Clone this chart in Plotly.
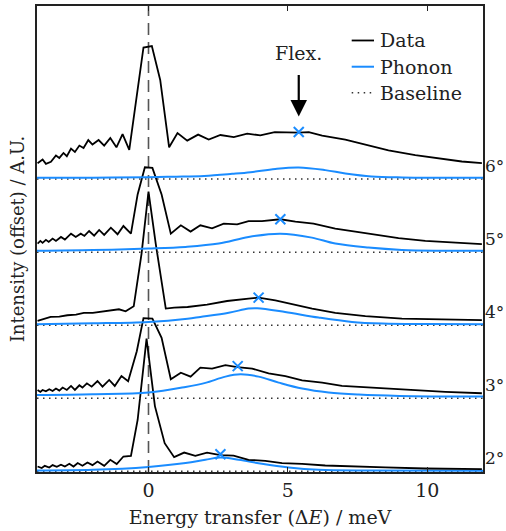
import plotly.graph_objects as go

# ---------------- data (intensity above each baseline, arbitrary units) ----------------
angles = ["2°", "3°", "4°", "5°", "6°"]
offsets = [0, 1, 2, 3, 4]

x_2 = [-3.98,-3.83,-3.72,-3.56,-3.44,-3.29,-3.14,-3.00,-2.84,-2.69,-2.54,-2.37,-2.19,-2.01,-1.83,-1.59,-1.37,-1.14,-0.90,-0.63,-0.39,-0.07,0.23,0.58,0.92,1.28,1.68,2.10,2.58,3.05,3.59,4.19,4.79,5.51,6.34,7.30,8.49,9.93,11.96]
y_2 = [0.065,0.044,0.075,0.052,0.084,0.061,0.089,0.065,0.102,0.065,0.112,0.075,0.120,0.084,0.134,0.075,0.157,0.098,0.202,0.211,0.702,1.815,0.892,0.384,0.193,0.256,0.211,0.256,0.221,0.215,0.157,0.143,0.112,0.102,0.079,0.065,0.052,0.038,0.030]

x_3 = [-3.98,-3.88,-3.80,-3.68,-3.56,-3.44,-3.32,-3.20,-3.08,-2.93,-2.78,-2.64,-2.48,-2.37,-2.21,-2.04,-1.83,-1.65,-1.41,-1.21,-0.97,-0.73,-0.42,-0.18,0.14,0.47,0.80,1.16,1.51,1.86,2.28,2.76,3.18,3.72,4.31,4.91,5.51,6.23,6.94,7.78,8.61,9.57,10.65,11.96]
y_3 = [0.113,0.086,0.113,0.095,0.123,0.099,0.132,0.104,0.146,0.113,0.168,0.113,0.177,0.146,0.204,0.159,0.236,0.159,0.250,0.168,0.304,0.232,0.644,1.097,1.090,0.827,0.259,0.350,0.296,0.418,0.405,0.454,0.426,0.405,0.341,0.304,0.245,0.214,0.168,0.150,0.123,0.105,0.086,0.068]

x_4 = [-3.98,-3.70,-3.51,-3.20,-2.91,-2.60,-2.32,-2.00,-1.72,-1.36,-1.06,-0.82,-0.53,-0.25,0.00,0.26,0.62,0.92,1.40,2.10,2.82,3.59,3.95,4.55,5.15,5.87,6.70,7.78,9.09,11.96]
y_4 = [0.059,0.090,0.113,0.118,0.136,0.145,0.168,0.168,0.181,0.204,0.218,0.191,0.259,0.977,1.830,1.113,0.228,0.241,0.249,0.282,0.331,0.363,0.377,0.341,0.286,0.228,0.168,0.123,0.091,0.068]

x_5 = [-3.98,-3.88,-3.80,-3.68,-3.58,-3.44,-3.32,-3.14,-3.00,-2.78,-2.61,-2.43,-2.30,-2.13,-1.95,-1.77,-1.59,-1.35,-1.11,-0.90,-0.63,-0.39,-0.13,0.14,0.47,0.80,1.16,1.51,1.86,2.28,2.70,3.18,3.59,4.07,4.73,5.27,5.92,6.70,7.42,8.14,8.97,9.93,10.89,11.96]
y_5 = [0.117,0.154,0.127,0.168,0.140,0.185,0.154,0.208,0.172,0.253,0.208,0.253,0.222,0.290,0.226,0.304,0.236,0.335,0.245,0.358,0.253,0.790,1.162,1.153,0.790,0.253,0.368,0.281,0.368,0.327,0.390,0.381,0.426,0.426,0.450,0.417,0.390,0.322,0.281,0.236,0.191,0.154,0.131,0.109]

x_6 = [-3.98,-3.80,-3.68,-3.50,-3.32,-3.20,-3.05,-2.93,-2.78,-2.64,-2.48,-2.33,-2.16,-2.01,-1.79,-1.59,-1.37,-1.15,-0.93,-0.69,-0.18,0.12,0.42,0.74,1.04,1.39,1.78,2.16,2.58,3.06,3.54,4.01,4.53,4.91,5.39,5.75,6.23,7.06,7.84,8.61,9.57,10.41,11.24,11.96]
y_6 = [0.218,0.268,0.208,0.236,0.323,0.290,0.358,0.313,0.418,0.372,0.459,0.426,0.535,0.473,0.535,0.459,0.563,0.436,0.617,0.399,1.802,1.822,1.358,0.436,0.631,0.527,0.609,0.541,0.604,0.576,0.623,0.599,0.644,0.640,0.636,0.644,0.595,0.541,0.463,0.395,0.327,0.282,0.241,0.218]

# phonon fits
px_2 = [-4, -2, 0, 1.33, 2.04, 2.58, 3.24, 4.07, 5.03, 6.1, 8, 12]
py_2 = [0.011, 0.020, 0.060, 0.112, 0.157, 0.188, 0.157, 0.102, 0.052, 0.020, 0.010, 0.007]
px_3 = [-4, -2, 0, 1.33, 2.04, 2.76, 3.3, 3.95, 4.67, 5.51, 6.46, 7.54, 9, 12]
py_3 = [0.045, 0.055, 0.078, 0.154, 0.210, 0.296, 0.327, 0.296, 0.214, 0.132, 0.078, 0.050, 0.032, 0.023]
px_4 = [-4, -2, 0, 1.4, 1.86, 2.88, 3.59, 3.9, 4.9, 6.1, 7.3, 8.4, 10, 12]
py_4 = [0.014, 0.025, 0.045, 0.089, 0.113, 0.170, 0.228, 0.232, 0.181, 0.105, 0.045, 0.023, 0.016, 0.014]
px_5 = [-4, -2, 0, 1.33, 2.52, 3.59, 4.73, 5.86, 6.70, 7.89, 9.09, 10.5, 12]
py_5 = [0.018, 0.028, 0.049, 0.072, 0.117, 0.208, 0.253, 0.199, 0.117, 0.063, 0.031, 0.020, 0.018]
px_6 = [-4, -2, 0, 1, 2, 3, 3.66, 4.55, 5.39, 6.34, 7.06, 8.0, 9.1, 10.5, 12]
py_6 = [0.018, 0.020, 0.027, 0.033, 0.043, 0.072, 0.095, 0.140, 0.159, 0.123, 0.078, 0.037, 0.023, 0.019, 0.018]

# inflection (Flex.) markers
flex_x = [2.58, 3.20, 3.95, 4.73, 5.39]
flex_y = [0.234, 0.440, 0.377, 0.450, 0.644]

data_x = [x_2, x_3, x_4, x_5, x_6]
data_y = [y_2, y_3, y_4, y_5, y_6]
ph_x = [px_2, px_3, px_4, px_5, px_6]
ph_y = [py_2, py_3, py_4, py_5, py_6]

x_range = [-4, 12]
x_ticks = [0, 5, 10]

# ---------------- styling ----------------
BLUE = "#1a8cff"
FONT = "DejaVu Serif"
FS = 19
TXT = "#222222"

fig = go.Figure()
for k in range(5):
    off = offsets[k]
    fig.add_trace(go.Scatter(x=x_range, y=[off, off], mode="lines",
                             line=dict(color="#333333", width=1.5, dash="1.5px,4.5px"),
                             showlegend=False, hoverinfo="skip"))
    fig.add_trace(go.Scatter(x=ph_x[k], y=[v + off for v in ph_y[k]], mode="lines",
                             line=dict(color=BLUE, width=2, shape="spline", smoothing=1.0),
                             showlegend=False))
    fig.add_trace(go.Scatter(x=data_x[k], y=[v + off for v in data_y[k]], mode="lines",
                             line=dict(color="black", width=1.8),
                             showlegend=False))

fig.add_trace(go.Scatter(x=flex_x, y=[v + o for v, o in zip(flex_y, offsets)], mode="markers",
                         marker=dict(symbol="x-thin", size=10, line=dict(color=BLUE, width=2)),
                         showlegend=False))

# dashed line at zero energy transfer
fig.add_shape(type="line", xref="x", yref="paper", x0=0, x1=0, y0=0, y1=1,
              line=dict(color="#555555", width=1.6, dash="12px,7px"), layer="below")

annotations = []
# right-hand angle labels
for k in range(5):
    annotations.append(dict(x=1, xref="paper", y=offsets[k] + 0.18, yref="y",
                            text=angles[k], showarrow=False, xanchor="left", yanchor="middle",
                            xshift=1, borderpad=0, font=dict(family=FONT, size=17, color=TXT)))

# Flex. arrow and label
annotations.append(dict(x=flex_x[4], y=4.857, xref="x", yref="y", text="", showarrow=True,
                        ax=0, ay=-43, arrowhead=2, arrowsize=1.5, arrowwidth=2.2,
                        arrowcolor="black"))
annotations.append(dict(x=flex_x[4], y=(472 - 51.7) / 468, xref="x", yref="paper",
                        text="Flex.", showarrow=False, xanchor="center", yanchor="middle",
                        font=dict(family=FONT, size=FS, color=TXT)))

# manual legend
leg_items = [("Data", dict(color="black", width=1.8)),
             ("Phonon", dict(color=BLUE, width=2)),
             ("Baseline", dict(color="#333333", width=1.5, dash="1.5px,4.5px"))]
leg_y = [0.926, 0.8697, 0.814]
for (name, ln), yy in zip(leg_items, leg_y):
    fig.add_shape(type="line", xref="paper", yref="paper", x0=0.7056, x1=0.7556, y0=yy, y1=yy, line=ln)
    annotations.append(dict(x=0.765, y=yy, xref="paper", yref="paper", text=name, showarrow=False,
                            xanchor="left", yanchor="middle",
                            font=dict(family=FONT, size=FS, color=TXT)))

fig.update_layout(
    width=506, height=531,
    margin=dict(l=37, r=23, t=4, b=59),
    paper_bgcolor="white", plot_bgcolor="white",
    font=dict(family=FONT, size=FS, color=TXT),
    annotations=annotations,
    showlegend=False,
)
fig.update_xaxes(range=x_range, tickvals=x_ticks, ticks="inside", ticklen=5, tickwidth=1.2,
                 tickcolor="#222", showline=True, linecolor="#222", linewidth=1.5, mirror="ticks",
                 showgrid=False, zeroline=False,
                 title=dict(text="Energy transfer (Δ<i>E</i>) / meV", standoff=11,
                            font=dict(family=FONT, size=FS, color=TXT)),
                 tickfont=dict(family=FONT, size=FS, color=TXT))
fig.update_yaxes(range=[-0.01, 6.37], showticklabels=False, ticks="", showline=True,
                 linecolor="#222", linewidth=1.5, mirror=True, showgrid=False, zeroline=False,
                 title=dict(text="Intensity (offset) / A.U.", standoff=6,
                            font=dict(family=FONT, size=18, color=TXT)))

fig.write_html("out.html")
